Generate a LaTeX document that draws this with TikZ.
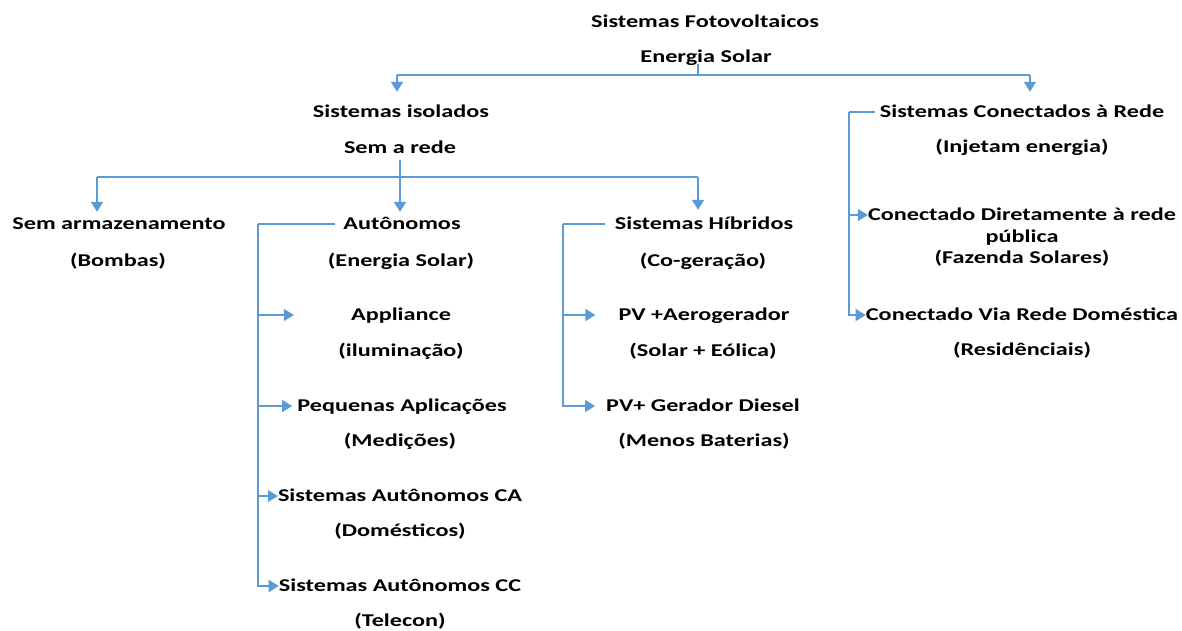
\documentclass[tikz,border=0pt]{standalone}
\usepackage{fontspec}
\newfontfamily\lblfont{Carlito}[FakeStretch=1.345]
\usetikzlibrary{arrows.meta}
\definecolor{lblue}{HTML}{5B9BD5}
\begin{document}
\begin{tikzpicture}[x=1pt,y=-1pt,
  lbl/.style={anchor=base,inner sep=0pt,text height=12pt,text depth=2pt,
    font=\lblfont\bfseries\fontsize{18}{20}\selectfont},
  ln/.style={draw=lblue,line width=1.4pt},
  thick ln/.style={draw=lblue,line width=2.6pt},
  tip/.style={-{Triangle[width=12pt,length=10pt]}},
  arr/.style={ln,tip}]
\useasboundingbox (0,0) rectangle (1182,630);
% texts
\node[lbl] (T1) at (705,27) {Sistemas Fotovoltaicos};
\node[lbl] (T2) at (706,62) {Energia Solar};
\node[lbl] (iso1) at (401,117) {Sistemas isolados};
\node[lbl] (iso2) at (400,153) {Sem a rede};
\node[lbl] (con1) at (1022,117) {Sistemas Conectados à Rede};
\node[lbl] (con2) at (1022,152) {(Injetam energia)};
\node[lbl] (sem1) at (119,229) {Sem armazenamento};
\node[lbl] (sem2) at (118,266) {(Bombas)};
\node[lbl] (aut1) at (402,229) {Autônomos};
\node[lbl] (aut2) at (401,266) {(Energia Solar)};
\node[lbl] (hib1) at (704,229) {Sistemas Híbridos};
\node[lbl] (hib2) at (703,266) {(Co-geração)};
\node[lbl] (app1) at (401,320) {Appliance};
\node[lbl] (app2) at (401,356) {(iluminação)};
\node[lbl] (peq1) at (402,411) {Pequenas Aplicações};
\node[lbl] (peq2) at (400,446) {(Medições)};
\node[lbl] (ca1) at (400,501) {Sistemas Autônomos CA};
\node[lbl] (ca2) at (400,536) {(Domésticos)};
\node[lbl] (cc1) at (400,591) {Sistemas Autônomos CC};
\node[lbl] (cc2) at (400,626) {(Telecon)};
\node[lbl] (pv1) at (704,320) {PV +Aerogerador};
\node[lbl] (pv2) at (703,356) {(Solar + Eólica)};
\node[lbl] (pvd1) at (703,411) {PV+ Gerador Diesel};
\node[lbl] (pvd2) at (704,446) {(Menos Baterias)};
\node[lbl] (dir1) at (1022,220) {Conectado Diretamente à rede};
\node[lbl] (dir2) at (1022,242) {pública};
\node[lbl] (dir3) at (1022,263) {(Fazenda Solares)};
\node[lbl] (via1) at (1022,320) {Conectado Via Rede Doméstica};
\node[lbl] (via2) at (1022,355) {(Residênciais)};
% junction coordinates
\coordinate (h1) at (698,75);
\coordinate (hL1) at (397,75);
\coordinate (hR1) at (1030,75);
\coordinate (h2) at (400,177);
\coordinate (hL2) at (97,177);
\coordinate (hR2) at (698,177);
\coordinate (bA) at (258,224);
\coordinate (bH) at (563,224);
\coordinate (bC) at (849,112);
% top level
\draw[ln] (T2.south -| h1) -- (h1);
\draw[ln] (hL1) -- (hR1);
\draw[arr,shorten >=13pt] (hL1) -- (hL1 |- iso1.north);
\draw[arr,shorten >=13pt] (hR1) -- (hR1 |- con1.north);
% isolated systems
\draw[thick ln,tip,shorten <=5pt,shorten >=5pt] (iso2.south) -- (iso2.south |- aut1.north);
\draw[ln] (hL2) -- (hR2);
\draw[arr,shorten >=5pt] (hL2) -- (hL2 |- sem1.north);
\draw[arr,shorten >=7pt] (hR2) -- (hR2 |- hib1.north);
% autonomous bracket
\draw[ln,shorten <=8pt] (aut1.west) -- (bA);
\draw[arr,shorten >=57pt] (bA) |- (app1.west);
\draw[arr,shorten >=5pt] (bA) |- (peq1.west);
\draw[arr] (bA) |- (ca1.west);
\draw[arr] (bA) |- (cc1.west);
% hybrid bracket
\draw[ln,shorten <=10pt] (hib1.west) -- (bH);
\draw[arr,shorten >=23pt] (bH) |- (pv1.west);
\draw[arr,shorten >=11pt] (bH) |- (pvd1.west);
% grid-connected bracket
\draw[ln,shorten <=5pt] (con1.west) -- (bC);
\draw[arr] (bC) |- (dir1.west);
\draw[arr] (bC) |- (via1.west);
\end{tikzpicture}
\end{document}
